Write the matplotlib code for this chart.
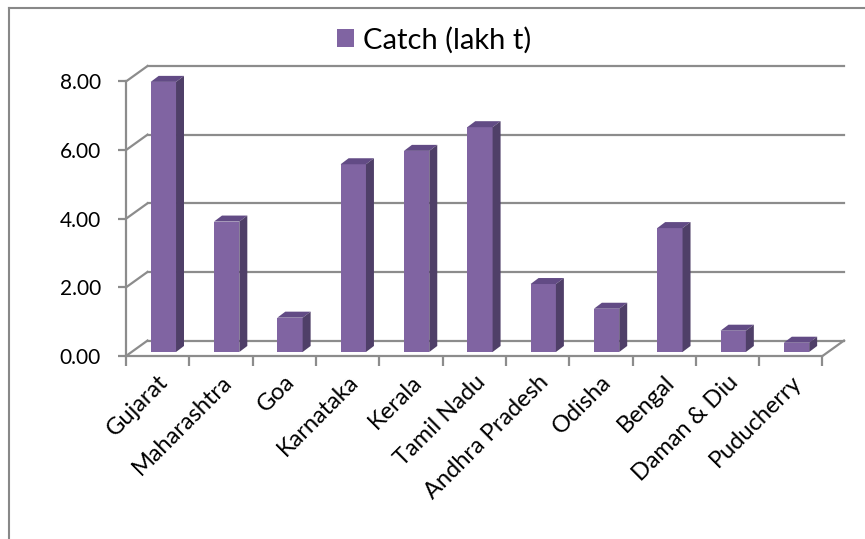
import numpy as np
import matplotlib
matplotlib.use("Agg")
from matplotlib import pyplot as plt
from matplotlib.patches import Polygon
from matplotlib.lines import Line2D

plt.rcParams['font.family'] = ['Lato', 'DejaVu Sans']

states = ['Gujarat', 'Maharashtra', 'Goa', 'Karnataka', 'Kerala', 'Tamil Nadu',
          'Andhra Pradesh', 'Odisha', 'Bengal', 'Daman & Diu', 'Puducherry']
catch = [7.87, 3.80, 1.00, 5.47, 5.86, 6.55, 1.98, 1.26, 3.61, 0.62, 0.27]
yticks = [0, 2, 4, 6, 8]

front_col = '#8064A2'
top_col = '#624B85'
side_col = '#4F3F68'
grid_col = '#8C8C8C'

# fake 3d: depth offset of the back wall and of each column (data units)
DX, DY = 0.34, 0.45
BX, BY = 0.126, 0.175
SHIFT, LIFT, W = 0.09, 0.117, 0.4

fig = plt.figure(figsize=(8.65, 5.39), dpi=100)
ax = fig.add_axes([126/865, 1 - 356/539, (844 - 126)/865, (356 - 66)/539])

x = np.arange(len(states))
n = len(states)

# back wall gridlines and left wall diagonals
for t in yticks:
    ax.plot([-0.5 + DX, n - 0.5 + DX], [t + DY, t + DY], color=grid_col, lw=1.6, zorder=1, clip_on=False)
    ax.plot([-0.5, -0.5 + DX], [t, t + DY], color=grid_col, lw=1.6, zorder=1, clip_on=False)
ax.plot([n - 0.5, n - 0.5 + DX], [0, DY], color=grid_col, lw=1.6, zorder=1, clip_on=False)

bars = ax.bar(x + SHIFT, catch, width=W, bottom=LIFT, color=front_col, zorder=3,
              label='Catch (lakh t)')
for xi, v in zip(x, catch):
    l = xi + SHIFT - W/2
    r = xi + SHIFT + W/2
    top = v + LIFT
    ax.add_patch(Polygon([(l, top), (r, top), (r + BX, top + BY), (l + BX, top + BY)],
                         closed=True, facecolor=top_col, edgecolor='none', zorder=3))
    ax.add_patch(Polygon([(r, LIFT), (r + BX, LIFT + BY), (r + BX, top + BY), (r, top)],
                         closed=True, facecolor=side_col, edgecolor='none', zorder=3))

ax.set_xlim(-0.5, n - 0.5 + DX)
ax.set_ylim(0, 8 + DY)

for s in ['top', 'right']:
    ax.spines[s].set_visible(False)
ax.spines['left'].set_bounds(0, 8)
ax.spines['bottom'].set_bounds(-0.5, n - 0.5)
for s in ['left', 'bottom']:
    ax.spines[s].set_color(grid_col)
    ax.spines[s].set_linewidth(1.6)

ax.set_yticks(yticks)
ax.set_yticklabels(['%.2f' % t for t in yticks])
ax.tick_params(axis='y', length=6, width=1.6, color=grid_col, pad=12, labelsize=15)

ax.set_xticks(x)
ax.set_xticklabels(states, rotation=45, ha='right', va='top', rotation_mode='anchor')
ax.set_xticks(np.arange(-0.5, n, 1.0), minor=True)
ax.tick_params(axis='x', which='major', length=0, pad=11, labelsize=17)
ax.tick_params(axis='x', which='minor', length=7, width=1.6, color=grid_col)

leg = fig.legend(handles=[bars], loc='center', bbox_to_anchor=(434/865, 1 - 40/539),
                 frameon=False, fontsize=21, handlelength=0.6, handleheight=0.6,
                 handletextpad=0.3)

# chart area border (only top and left visible, the rest is cropped)
fig.add_artist(Line2D([9/865, 9/865], [0, 1 - 8/539], transform=fig.transFigure, color='#888888', lw=1.5))
fig.add_artist(Line2D([9/865, 1], [1 - 8/539, 1 - 8/539], transform=fig.transFigure, color='#888888', lw=1.5))

fig.savefig('out.png', dpi=100)
